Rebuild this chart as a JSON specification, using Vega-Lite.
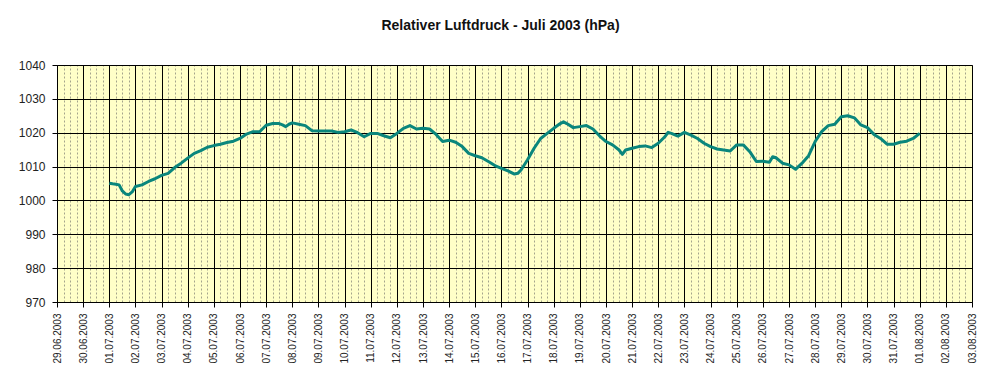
{
  "$schema": "https://vega.github.io/schema/vega-lite/v6.json",
  "width": 915,
  "height": 237,
  "autosize": {"type": "none"},
  "padding": {"left": 57, "top": 65, "right": 28, "bottom": 80},
  "background": "white",
  "title": {
    "text": "Relativer Luftdruck - Juli 2003 (hPa)",
    "font": "Liberation Sans",
    "fontSize": 14,
    "fontWeight": "bold",
    "color": "#111111",
    "anchor": "middle",
    "dx": -14,
    "offset": 26
  },
  "config": {
    "view": {"fill": "#FFFFC8", "stroke": "#808080", "strokeWidth": 1}
  },
  "data": {
    "values": [
      {"t": "2003-07-01T00:00", "p": 1005.1},
      {"t": "2003-07-01T03:00", "p": 1004.9},
      {"t": "2003-07-01T06:00", "p": 1004.8},
      {"t": "2003-07-01T09:00", "p": 1004.6},
      {"t": "2003-07-01T12:00", "p": 1002.8},
      {"t": "2003-07-01T15:00", "p": 1001.9},
      {"t": "2003-07-01T18:00", "p": 1001.7},
      {"t": "2003-07-01T21:00", "p": 1002.5},
      {"t": "2003-07-02T00:00", "p": 1004.1},
      {"t": "2003-07-02T06:00", "p": 1004.6},
      {"t": "2003-07-02T12:00", "p": 1005.6},
      {"t": "2003-07-02T18:00", "p": 1006.4},
      {"t": "2003-07-03T00:00", "p": 1007.4},
      {"t": "2003-07-03T06:00", "p": 1008.0},
      {"t": "2003-07-03T12:00", "p": 1009.7},
      {"t": "2003-07-03T18:00", "p": 1011.0},
      {"t": "2003-07-04T00:00", "p": 1012.5},
      {"t": "2003-07-04T06:00", "p": 1013.9},
      {"t": "2003-07-04T12:00", "p": 1014.7},
      {"t": "2003-07-04T18:00", "p": 1015.7},
      {"t": "2003-07-05T00:00", "p": 1016.2},
      {"t": "2003-07-05T06:00", "p": 1016.6},
      {"t": "2003-07-05T12:00", "p": 1017.1},
      {"t": "2003-07-05T18:00", "p": 1017.5},
      {"t": "2003-07-06T00:00", "p": 1018.3},
      {"t": "2003-07-06T06:00", "p": 1019.6},
      {"t": "2003-07-06T12:00", "p": 1020.3},
      {"t": "2003-07-06T18:00", "p": 1020.3},
      {"t": "2003-07-07T00:00", "p": 1022.2},
      {"t": "2003-07-07T06:00", "p": 1022.7},
      {"t": "2003-07-07T12:00", "p": 1022.7},
      {"t": "2003-07-07T15:00", "p": 1022.3},
      {"t": "2003-07-07T18:00", "p": 1021.8},
      {"t": "2003-07-07T21:00", "p": 1022.5},
      {"t": "2003-07-08T00:00", "p": 1022.9},
      {"t": "2003-07-08T06:00", "p": 1022.5},
      {"t": "2003-07-08T12:00", "p": 1022.1},
      {"t": "2003-07-08T18:00", "p": 1020.6},
      {"t": "2003-07-09T00:00", "p": 1020.5},
      {"t": "2003-07-09T06:00", "p": 1020.5},
      {"t": "2003-07-09T12:00", "p": 1020.5},
      {"t": "2003-07-09T18:00", "p": 1020.1},
      {"t": "2003-07-10T00:00", "p": 1020.3},
      {"t": "2003-07-10T06:00", "p": 1020.8},
      {"t": "2003-07-10T12:00", "p": 1020.0},
      {"t": "2003-07-10T18:00", "p": 1018.8},
      {"t": "2003-07-11T00:00", "p": 1019.8},
      {"t": "2003-07-11T06:00", "p": 1019.8},
      {"t": "2003-07-11T12:00", "p": 1019.1},
      {"t": "2003-07-11T18:00", "p": 1018.5},
      {"t": "2003-07-12T00:00", "p": 1019.8},
      {"t": "2003-07-12T06:00", "p": 1021.3},
      {"t": "2003-07-12T12:00", "p": 1022.1},
      {"t": "2003-07-12T18:00", "p": 1021.1},
      {"t": "2003-07-13T00:00", "p": 1021.3},
      {"t": "2003-07-13T06:00", "p": 1021.1},
      {"t": "2003-07-13T12:00", "p": 1019.5},
      {"t": "2003-07-13T18:00", "p": 1017.4},
      {"t": "2003-07-14T00:00", "p": 1017.8},
      {"t": "2003-07-14T06:00", "p": 1017.2},
      {"t": "2003-07-14T12:00", "p": 1015.9},
      {"t": "2003-07-14T18:00", "p": 1013.9},
      {"t": "2003-07-15T00:00", "p": 1013.2},
      {"t": "2003-07-15T06:00", "p": 1012.6},
      {"t": "2003-07-15T12:00", "p": 1011.5},
      {"t": "2003-07-15T18:00", "p": 1010.3},
      {"t": "2003-07-16T00:00", "p": 1009.5},
      {"t": "2003-07-16T06:00", "p": 1008.7},
      {"t": "2003-07-16T12:00", "p": 1007.8},
      {"t": "2003-07-16T15:00", "p": 1008.0},
      {"t": "2003-07-16T18:00", "p": 1009.0},
      {"t": "2003-07-17T00:00", "p": 1012.0},
      {"t": "2003-07-17T06:00", "p": 1015.4},
      {"t": "2003-07-17T12:00", "p": 1018.3},
      {"t": "2003-07-17T18:00", "p": 1019.8},
      {"t": "2003-07-18T00:00", "p": 1021.3},
      {"t": "2003-07-18T06:00", "p": 1022.7},
      {"t": "2003-07-18T09:00", "p": 1023.2},
      {"t": "2003-07-18T12:00", "p": 1022.7},
      {"t": "2003-07-18T18:00", "p": 1021.5},
      {"t": "2003-07-19T00:00", "p": 1021.8},
      {"t": "2003-07-19T06:00", "p": 1022.1},
      {"t": "2003-07-19T12:00", "p": 1021.1},
      {"t": "2003-07-19T18:00", "p": 1019.1},
      {"t": "2003-07-20T00:00", "p": 1017.4},
      {"t": "2003-07-20T06:00", "p": 1016.4},
      {"t": "2003-07-20T12:00", "p": 1014.9},
      {"t": "2003-07-20T15:00", "p": 1013.6},
      {"t": "2003-07-20T18:00", "p": 1014.9},
      {"t": "2003-07-21T00:00", "p": 1015.4},
      {"t": "2003-07-21T06:00", "p": 1015.9},
      {"t": "2003-07-21T12:00", "p": 1016.1},
      {"t": "2003-07-21T18:00", "p": 1015.6},
      {"t": "2003-07-22T00:00", "p": 1016.9},
      {"t": "2003-07-22T06:00", "p": 1018.8},
      {"t": "2003-07-22T09:00", "p": 1020.1},
      {"t": "2003-07-22T12:00", "p": 1019.8},
      {"t": "2003-07-22T18:00", "p": 1019.0},
      {"t": "2003-07-23T00:00", "p": 1020.1},
      {"t": "2003-07-23T06:00", "p": 1019.3},
      {"t": "2003-07-23T12:00", "p": 1018.3},
      {"t": "2003-07-23T18:00", "p": 1016.9},
      {"t": "2003-07-24T00:00", "p": 1015.9},
      {"t": "2003-07-24T06:00", "p": 1015.2},
      {"t": "2003-07-24T12:00", "p": 1014.9},
      {"t": "2003-07-24T18:00", "p": 1014.6},
      {"t": "2003-07-25T00:00", "p": 1016.4},
      {"t": "2003-07-25T06:00", "p": 1016.4},
      {"t": "2003-07-25T12:00", "p": 1014.4},
      {"t": "2003-07-25T18:00", "p": 1011.5},
      {"t": "2003-07-26T00:00", "p": 1011.6},
      {"t": "2003-07-26T06:00", "p": 1011.3},
      {"t": "2003-07-26T09:00", "p": 1012.9},
      {"t": "2003-07-26T12:00", "p": 1012.6},
      {"t": "2003-07-26T18:00", "p": 1011.0},
      {"t": "2003-07-27T00:00", "p": 1010.5},
      {"t": "2003-07-27T06:00", "p": 1009.2},
      {"t": "2003-07-27T12:00", "p": 1011.0},
      {"t": "2003-07-27T18:00", "p": 1013.2},
      {"t": "2003-07-28T00:00", "p": 1017.4},
      {"t": "2003-07-28T06:00", "p": 1020.3},
      {"t": "2003-07-28T12:00", "p": 1022.1},
      {"t": "2003-07-28T18:00", "p": 1022.5},
      {"t": "2003-07-29T00:00", "p": 1024.7},
      {"t": "2003-07-29T06:00", "p": 1025.0},
      {"t": "2003-07-29T12:00", "p": 1024.4},
      {"t": "2003-07-29T18:00", "p": 1022.3},
      {"t": "2003-07-30T00:00", "p": 1021.5},
      {"t": "2003-07-30T06:00", "p": 1019.5},
      {"t": "2003-07-30T12:00", "p": 1018.3},
      {"t": "2003-07-30T18:00", "p": 1016.6},
      {"t": "2003-07-31T00:00", "p": 1016.6},
      {"t": "2003-07-31T06:00", "p": 1017.2},
      {"t": "2003-07-31T12:00", "p": 1017.5},
      {"t": "2003-07-31T18:00", "p": 1018.3},
      {"t": "2003-08-01T00:00", "p": 1019.8}
    ]
  },
  "encoding": {
    "y": {
      "field": "p",
      "type": "quantitative",
      "scale": {"domain": [970, 1040], "nice": false, "zero": false},
      "axis": {
        "title": null,
        "values": [970, 980, 990, 1000, 1010, 1020, 1030, 1040],
        "format": "d",
        "labelFont": "Liberation Sans",
        "labelFontSize": 12,
        "labelColor": "#222222",
        "labelPadding": 7,
        "tickSize": 5,
        "tickColor": "#000000",
        "domain": true,
        "domainColor": "#000000",
        "grid": true,
        "gridColor": "#000000",
        "gridWidth": 1,
        "gridOpacity": 1
      }
    }
  },
  "layer": [
    {
      "mark": {"type": "line", "opacity": 0},
      "encoding": {
        "x": {
          "field": "t",
          "type": "temporal",
          "scale": {
            "domain": [
              {"year": 2003, "month": 6, "date": 29},
              {"year": 2003, "month": 8, "date": 3}
            ],
            "nice": false
          },
          "axis": {
            "orient": "top",
            "title": null,
            "tickCount": 140,
            "labels": false,
            "ticks": false,
            "domain": false,
            "grid": true,
            "gridColor": "#a4a48c",
            "gridDash": [2, 2],
            "gridWidth": 1,
            "gridOpacity": 1
          }
        }
      }
    },
    {
      "mark": {"type": "line", "color": "#0a867c", "strokeWidth": 3, "strokeJoin": "round", "clip": true},
      "encoding": {
        "x": {
          "field": "t",
          "type": "temporal",
          "axis": {
            "orient": "bottom",
            "title": null,
            "tickCount": 35,
            "format": "%d.%m.%Y",
            "labelAngle": -90,
            "labelAlign": "right",
            "labelBaseline": "middle",
            "labelFont": "Liberation Sans",
            "labelFontSize": 10,
            "labelColor": "#222222",
            "labelPadding": 6,
            "labelOverlap": false,
            "labelFlush": false,
            "labelBound": false,
            "domain": true,
            "domainColor": "#000000",
            "ticks": true,
            "tickSize": 5,
            "tickColor": "#000000",
            "grid": true,
            "gridColor": "#000000",
            "gridWidth": 1,
            "gridOpacity": 1
          }
        }
      }
    }
  ],
  "resolve": {"axis": {"x": "independent"}}
}
